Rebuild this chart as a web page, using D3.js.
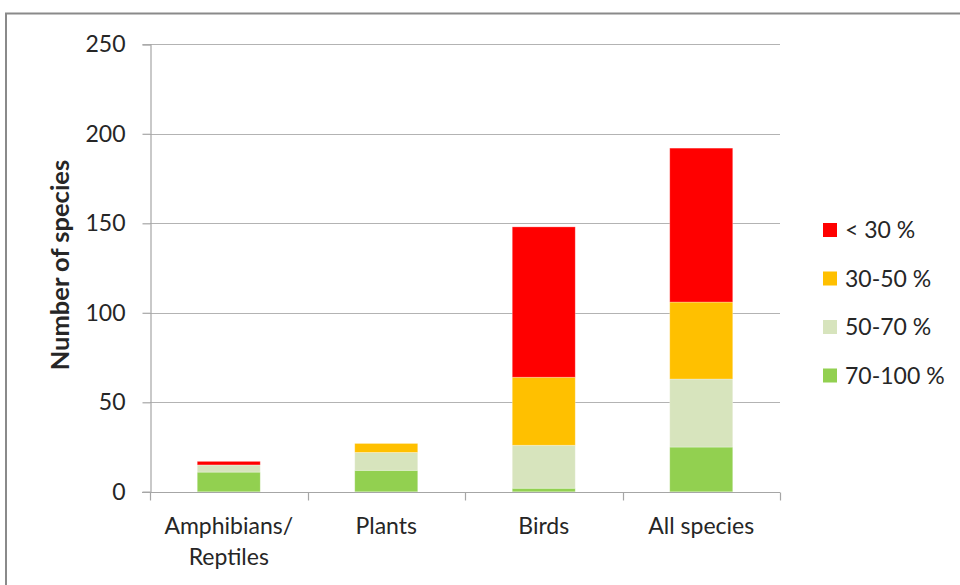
<!DOCTYPE html>
<html>
<head>
<meta charset="utf-8">
<script src="https://cdn.jsdelivr.net/npm/d3@7"></script>
<style>
  html, body { margin: 0; padding: 0; background: #fff; }
  svg { display: block; }
  text { font-family: Lato, "Open Sans", sans-serif; fill: #262626; }
</style>
</head>
<body>
<svg id="chart" width="960" height="585"></svg>
<script>
// ---- data ----
const categories = [["Amphibians/", "Reptiles"], ["Plants"], ["Birds"], ["All species"]];
const seriesNames = ["70-100 %", "50-70 %", "30-50 %", "< 30 %"];
const seriesColors = ["#92D050", "#D7E4BD", "#FFC000", "#FF0000"];
const v70_100 = [11, 12, 2, 25];
const v50_70  = [4, 10, 24, 38];
const v30_50  = [0, 5, 38, 43];
const vlt30   = [2, 0, 84, 86];
const yTicks = [0, 50, 100, 150, 200, 250];
const yTitle = "Number of species";

// ---- build table ----
const seriesValues = [v70_100, v50_70, v30_50, vlt30];
const keys = seriesNames;
const table = categories.map((c, i) => {
  const row = { cat: c.join(" ") };
  keys.forEach((k, j) => row[k] = seriesValues[j][i]);
  return row;
});
const stacked = d3.stack().keys(keys)(table);

const svg = d3.select("#chart");

// outer frame
svg.append("rect")
  .attr("x", 6).attr("y", 13.5).attr("width", 1000).attr("height", 700)
  .attr("fill", "none").attr("stroke", "#8a8a8a").attr("stroke-width", 2);

const left = 150, right = 780;
const x = d3.scaleBand().domain(table.map(d => d.cat))
  .range([left, right]).paddingInner(0.6).paddingOuter(0.3);
const xOuter = d3.scaleBand().domain(table.map(d => d.cat))
  .range([left, right]).padding(0);
const y = d3.scaleLinear().domain([0, 250]).range([491.8, 44.3]);

// gridlines
svg.append("g").selectAll("line").data(yTicks.filter(t => t > 0)).join("line")
  .attr("x1", left).attr("x2", right)
  .attr("y1", d => Math.round(y(d)) + 0.5).attr("y2", d => Math.round(y(d)) + 0.5)
  .attr("stroke", "#b3b3b3").attr("stroke-width", 1.2);

// y axis
const yAxis = svg.append("g").attr("transform", `translate(${left + 0.5},0)`)
  .call(d3.axisLeft(y).tickValues(yTicks).tickSize(8).tickPadding(17));
yAxis.select(".domain").attr("stroke", "#a6a6a6").attr("stroke-width", 1.2);
yAxis.selectAll(".tick line").attr("stroke", "#a6a6a6").attr("stroke-width", 1.2);
yAxis.selectAll(".tick text").style("font-size", "23px").style("font-family", "Lato, sans-serif").attr("fill", "#262626");

// bars
svg.append("g").selectAll("g").data(stacked).join("g")
  .attr("fill", (d, i) => seriesColors[i])
  .selectAll("rect").data(d => d).join("rect")
  .attr("x", d => x(d.data.cat))
  .attr("width", x.bandwidth())
  .attr("y", d => y(d[1]))
  .attr("height", d => y(d[0]) - y(d[1]))
  .attr("stroke", "rgba(255,255,255,0.35)").attr("stroke-width", 0.8);

// x axis
const xAxis = svg.append("g").attr("transform", `translate(0,${Math.round(y(0)) + 0.5})`);
xAxis.append("line").attr("x1", left - 8).attr("x2", right)
  .attr("stroke", "#a6a6a6").attr("stroke-width", 1.2);
const bounds = table.map(d => xOuter(d.cat)).concat([right]);
xAxis.selectAll("line.tk").data(bounds).join("line").attr("class", "tk")
  .attr("x1", d => Math.round(d) + 0.5).attr("x2", d => Math.round(d) + 0.5)
  .attr("y1", 0).attr("y2", 8)
  .attr("stroke", "#a6a6a6").attr("stroke-width", 1.2);
const lbl = xAxis.selectAll("text.cl").data(categories).join("text").attr("class", "cl")
  .attr("text-anchor", "middle")
  .attr("transform", (d, i) => `translate(${xOuter(table[i].cat) + xOuter.bandwidth() / 2},0)`)
  .style("font-size", "23px");
lbl.selectAll("tspan").data(d => d).join("tspan")
  .attr("x", 0).attr("y", (d, i) => 41 + i * 31).text(d => d);

// y title
svg.append("text")
  .attr("transform", `translate(69,${(y(0) + y(250)) / 2 - 3}) rotate(-90)`)
  .attr("text-anchor", "middle")
  .style("font-size", "25.5px").style("font-weight", "bold").attr("fill", "#000")
  .text(yTitle);

// legend
const legendItems = seriesNames.map((n, i) => ({ name: n, color: seriesColors[i] })).reverse();
const lg = svg.append("g").selectAll("g").data(legendItems).join("g")
  .attr("transform", (d, i) => `translate(823,${230 + i * 48.5})`);
lg.append("rect").attr("x", 0).attr("y", -7).attr("width", 14).attr("height", 14)
  .attr("fill", d => d.color);
lg.append("text").attr("x", 22).attr("y", 0).attr("dy", "0.36em")
  .style("font-size", "23px").text(d => d.name);
</script>
</body>
</html>
